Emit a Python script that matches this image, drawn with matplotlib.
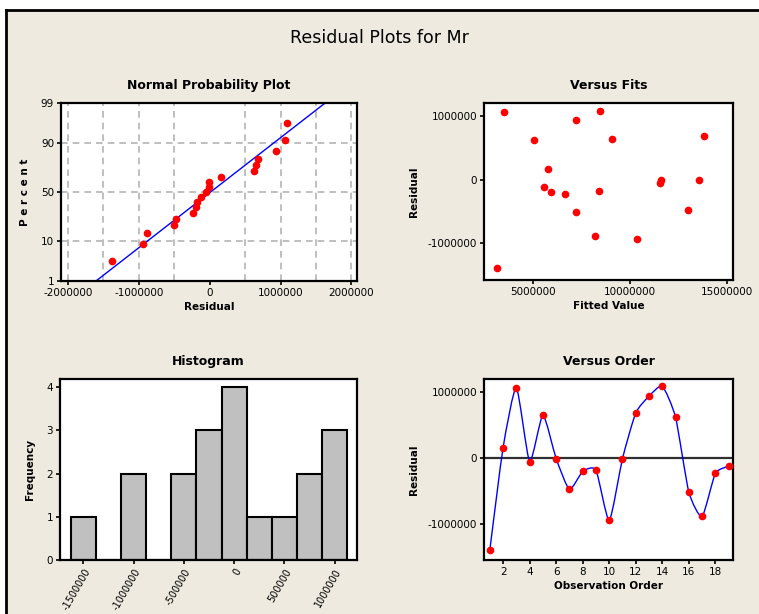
import numpy as np
import matplotlib
matplotlib.use("Agg")
import matplotlib.pyplot as plt
from matplotlib.patches import Rectangle, PathPatch
from matplotlib.lines import Line2D
from matplotlib.path import Path
from statistics import NormalDist

# ---------------- data ----------------
observation = list(range(1, 20))
residuals = [-1386000, 162000, 1066000, -50000, 650000, -5000, -470000, -200000,
             -180000, -940000, -5000, 685000, 940000, 1090000, 620000, -510000,
             -880000, -230000, -120000]
fitted = [3160000, 5780000, 3480000, 11520000, 9050000, 13570000, 12980000, 5950000,
          8410000, 10340000, 11600000, 13830000, 7190000, 8450000, 5050000, 7190000,
          8190000, 6670000, 5570000]

prob_ticks = [1, 10, 50, 90, 99]
normal_xticks = [-2000000, -1000000, 0, 1000000, 2000000]
fits_xticks = [5000000, 10000000, 15000000]
resid_yticks = [-1000000, 0, 1000000]
hist_xticks = [-1500000, -1000000, -500000, 0, 500000, 1000000]
hist_yticks = [0, 1, 2, 3, 4]
order_xticks = [2, 4, 6, 8, 10, 12, 14, 16, 18]

# ---------------- styling ----------------
W, H = 759, 614
BG = "#EEEAE0"
plt.rcParams['font.family'] = ['DejaVu Sans']
fig = plt.figure(figsize=(W / 100, H / 100), dpi=100)
fig.patch.set_facecolor("white")
fig.patches.append(Rectangle((6 / W, 0), 1.0, (H - 10) / H, transform=fig.transFigure,
                             facecolor=BG, edgecolor="none", zorder=-10))
fig.lines.append(Line2D([6 / W, 1.0], [(H - 10) / H, (H - 10) / H], transform=fig.transFigure,
                        color="black", lw=2.0))
fig.lines.append(Line2D([6 / W, 6 / W], [0, (H - 10) / H], transform=fig.transFigure,
                        color="black", lw=2.0))


def ax_px(l, t, r, b):
    a = fig.add_axes([l / W, (H - b) / H, (r - l) / W, (b - t) / H])
    a.set_facecolor("white")
    for s in a.spines.values():
        s.set_linewidth(1.6)
        s.set_color("black")
    a.tick_params(direction="out", length=3, width=1.2, labelsize=7.5, pad=2)
    return a


fig.text(0.5, 0.938, "Residual Plots for Mr", ha="center", va="center", fontsize=12.5)

title_kw = dict(fontsize=9, fontweight="bold", pad=10)
lab_kw = dict(fontsize=7.5, fontweight="bold")

res = np.array(residuals, dtype=float)
n = len(res)

# ---------------- Normal probability plot ----------------
ax1 = ax_px(61, 103, 357, 281)
nd = NormalDist()
sorted_res = np.sort(res)
pp = (np.arange(1, n + 1) - 0.3) / (n + 0.4)
z = np.array([nd.inv_cdf(p) for p in pp])
zlim = nd.inv_cdf(0.99)
for gx in np.arange(-2000000, 2000001, 500000):
    if gx != 0:
        ax1.axvline(gx, color="#B4B4B4", lw=1.2, ls=(0, (4, 3)), zorder=0)
for gp in [10, 50, 90]:
    ax1.axhline(nd.inv_cdf(gp / 100), color="#B4B4B4", lw=1.2, ls=(0, (4, 3)), zorder=0)
mu, sd = res.mean(), res.std(ddof=1)
ax1.axline((mu, 0), slope=1 / sd, color="blue", lw=1.0, zorder=2)
ax1.plot(sorted_res, z, "o", color="red", ms=4.5, mec="red", zorder=3)
ax1.set_xlim(-2100000, 2080000)
ax1.set_ylim(-zlim, zlim)
ax1.set_xticks(normal_xticks)
ax1.set_xticklabels([str(v) for v in normal_xticks])
ax1.set_yticks([nd.inv_cdf(p / 100) for p in prob_ticks])
ax1.set_yticklabels([str(p) for p in prob_ticks])
ax1.set_title("Normal Probability Plot", **title_kw)
ax1.set_xlabel("Residual", labelpad=3, **lab_kw)
ax1.set_ylabel("P e r c e n t", labelpad=8, **lab_kw)

# ---------------- Versus Fits ----------------
ax2 = ax_px(484, 103, 733, 280)
ax2.plot(fitted, residuals, "o", color="red", ms=4.5, mec="red")
ax2.set_xlim(2470000, 15310000)
ax2.set_ylim(-1580000, 1210000)
ax2.set_xticks(fits_xticks)
ax2.set_xticklabels([str(v) for v in fits_xticks])
ax2.set_yticks(resid_yticks)
ax2.set_yticklabels([str(v) for v in resid_yticks])
ax2.set_title("Versus Fits", **title_kw)
ax2.set_xlabel("Fitted Value", labelpad=3, **lab_kw)
ax2.set_ylabel("Residual", labelpad=6, **lab_kw)

# ---------------- Histogram ----------------
ax3 = ax_px(60, 379, 357, 560)
edges = np.arange(-1625000, 1125001, 250000)
ax3.hist(res, bins=edges, color="#C0C0C0", edgecolor="black", linewidth=1.5)
ax3.set_xlim(-1733000, 1223000)
ax3.set_ylim(0, 4.19)
ax3.set_xticks(hist_xticks)
ax3.set_xticklabels([str(v) for v in hist_xticks], rotation=60, ha="right",
                    rotation_mode="anchor", fontsize=7)
ax3.set_yticks(hist_yticks)
ax3.set_title("Histogram", **title_kw)
ax3.set_ylabel("Frequency", labelpad=8, **lab_kw)

# ---------------- Versus Order ----------------
ax4 = ax_px(484, 379, 733, 560)
ax4.axhline(0, color="#303030", lw=1.6, zorder=1)
pts = np.column_stack([observation, res])
verts = [tuple(pts[0])]
codes = [Path.MOVETO]
k = 10.0
for i in range(n - 1):
    p0 = pts[max(i - 1, 0)]
    p1 = pts[i]
    p2 = pts[i + 1]
    p3 = pts[min(i + 2, n - 1)]
    c1 = p1 + (p2 - p0) / k
    c2 = p2 - (p3 - p1) / k
    verts += [tuple(c1), tuple(c2), tuple(p2)]
    codes += [Path.CURVE4, Path.CURVE4, Path.CURVE4]
ax4.add_patch(PathPatch(Path(verts, codes), fill=False, edgecolor="blue", lw=1.0, zorder=2))
ax4.plot(observation, residuals, "o", color="red", ms=4.5, mec="red", zorder=3)
ax4.set_xlim(0.56, 19.33)
ax4.set_ylim(-1540000, 1200000)
ax4.set_xticks(order_xticks)
ax4.set_yticks(resid_yticks)
ax4.set_yticklabels([str(v) for v in resid_yticks])
ax4.set_title("Versus Order", **title_kw)
ax4.set_xlabel("Observation Order", labelpad=3, **lab_kw)
ax4.set_ylabel("Residual", labelpad=6, **lab_kw)

fig.savefig("out.png", dpi=100, facecolor=fig.get_facecolor())
